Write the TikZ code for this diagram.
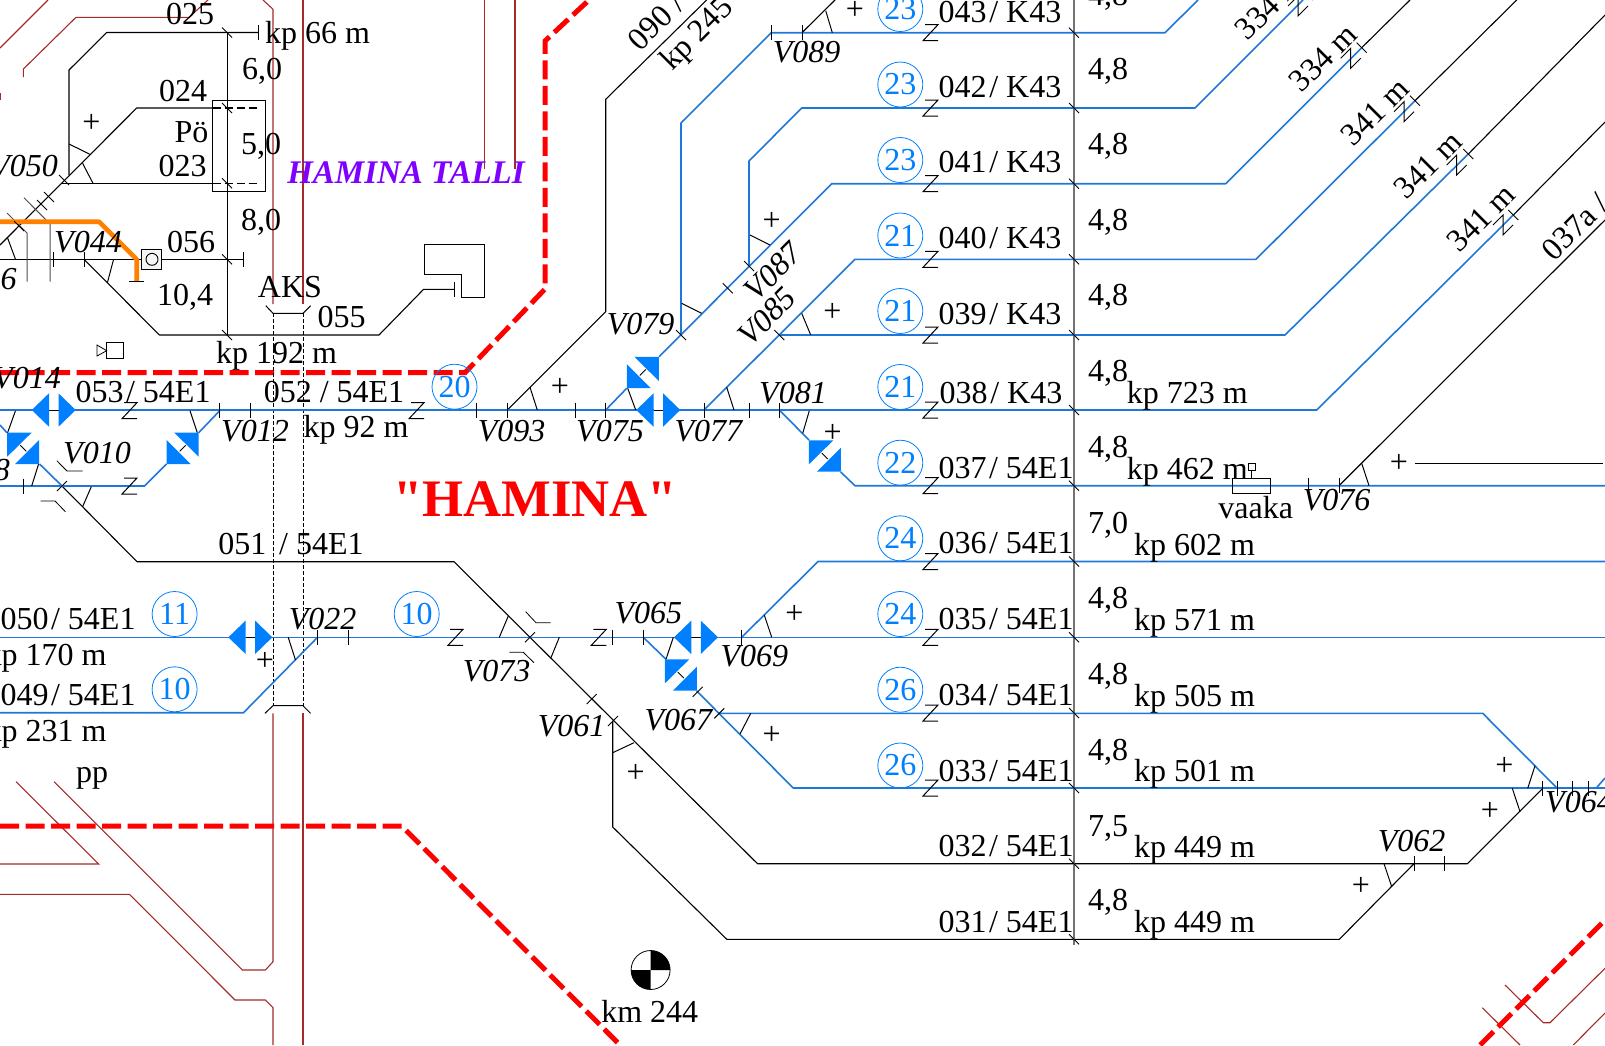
\documentclass[tikz,border=0pt]{standalone}
\usepackage{fontspec}
\setmainfont{Liberation Serif}
\newfontfamily\haminafont{Liberation Serif}
\newcommand{\tsl}{\hspace{.08em}/ }
\definecolor{trackblue}{HTML}{1F78D8}
\definecolor{sigblue}{HTML}{0080FF}
\definecolor{fencered}{HTML}{A52A2A}
\definecolor{zonered}{HTML}{FF0000}
\definecolor{sideorange}{HTML}{FF8000}
\definecolor{tallipurple}{HTML}{8000FF}
\begin{document}
\begin{tikzpicture}[x=1pt, y=-1pt,
    rail/.style={draw=black, line width=1.1pt, line join=round},
    bluerail/.style={draw=trackblue, line width=1.6pt, line join=round},
    fence/.style={draw=fencered, line width=1.1pt},
    zone/.style={draw=zonered, line width=5pt, dash pattern=on 19pt off 6.5pt},
    lbl/.style={inner sep=0pt, font=\fontsize{32}{32}\selectfont},
    sw/.style={lbl, font=\fontsize{32}{32}\selectfont\itshape},
    plus/.style={inner sep=0pt, font=\fontsize{32}{32}\selectfont},
    zlabel/.style={circle, draw=sigblue, line width=0.8pt, minimum size=45pt, inner sep=0pt,
      text=sigblue, font=\fontsize{32}{32}\selectfont},
    vt/.pic={\draw[line width=0.9pt] (0,-7.5) -- (0,7.5);},
    bs/.pic={\draw[line width=0.9pt] (-5,-5) -- (5,5);},
    fs/.pic={\draw[line width=0.9pt] (-5,5) -- (5,-5);},
    zmark/.pic={\draw[line width=1pt] (-5,-8) -- (8,-8) -- (-7,8) -- (8,8);},
    zdiag/.pic={\draw[line width=1pt] (-10,0) -- (0,-10) -- (0,10) -- (10,0);},
    sigh/.pic={
      \fill[white] (-4.75,-2) rectangle (4.75,2);
      \draw[line width=0.9pt] (-4.75,0) -- (4.75,0);
      \fill[sigblue] (-22,0) -- (-4.75,-16.7) -- (-4.75,16.7) -- cycle;
      \fill[sigblue] (22,0) -- (4.75,-16.7) -- (4.75,16.7) -- cycle;},
    sigd/.pic={
      \draw[line width=0.9pt] (-3,-3) -- (3,3);
      \fill[sigblue] (-16,-15.7) -- (8.5,-15.7) -- (-16,8.4) -- cycle;
      \fill[sigblue] (16,-8.3) -- (16,15.7) -- (-8,15.7) -- cycle;}]
  \useasboundingbox (0,0) rectangle (1605,1045);

  % fences
  \begin{scope}[fence]
    \draw[fence] (0,48) -- (48,0);
    \draw[fence] (23.4,77) -- (23.4,69) -- (76,17.3) -- (189,17.3) -- (208,0);
    \draw[fence] (0.5,93) -- (0.5,100);
    \draw[fence] (263,0) -- (273,9.3) -- (273,304);
    \draw[fence] (303,0) -- (303,304);
    \draw[fence] (484.5,0) -- (484.5,169);
    \draw[fence] (515,0) -- (515,169);
    \draw[fence] (16,781.7) -- (98.7,864) -- (0,864);
    \draw[fence] (54,781.7) -- (242.4,970) -- (265.4,970) -- (273,961.7) -- (273,713.3);
    \draw[fence] (0,894.3) -- (129.5,894.3) -- (235,1000) -- (265.4,1000) -- (273,1007.7) -- (273,1045);
    \draw[fence] (303,713.3) -- (303,1045);
    \draw[fence] (1505,985) -- (1543.3,1022.7) -- (1550,1022.7) -- (1605,968.3);
    \draw[fence] (1482.3,1007.7) -- (1520,1045);
    \draw[fence] (1573.3,1045) -- (1605,1013);
  \end{scope}

  % zone borders
  \draw[zone] (0,372.7) -- (465,372.7) -- (545,289) -- (545,41) -- (589,0);
  \draw[zone] (0,826) -- (401.7,826) -- (620,1045);
  \draw[zone] (1480,1045) -- (1605,920);

  % black tracks
  \begin{scope}[rail]
    \draw[rail] (258,32.5) -- (106.7,32.5) -- (69,70) -- (69,175);
    \draw[rail] (212.5,108) -- (136.7,108) -- (0,245);
    \draw[rail] (62,183.3) -- (212.5,183.3);
    \draw[rail, dash pattern=on 8pt off 4pt] (212.5,108) -- (258,108);
    \draw[rail, dash pattern=on 8pt off 4pt] (212.5,183.3) -- (258,183.3);
    \draw[rail] (0,259.3) -- (243,259.3);
    \draw[rail] (84,259.3) -- (159.4,335) -- (379,335) -- (423.6,289.3) -- (454.5,289.3);
    \draw[rail] (62,486) -- (137,561.7) -- (454,561.7) -- (757.5,863.7) -- (1467.3,863.7) -- (1542.7,788.3);
    \draw[rail] (612.7,720.7) -- (612.7,827) -- (726.8,939.3) -- (1339.3,939.3) -- (1414,863.7);
    \draw[rail] (507.3,410) -- (605.7,311.7) -- (605.7,99.3) -- (706.7,0);
    \draw[rail] (802,32.7) -- (835,0);
    \draw[rail] (1339,485.7) -- (1605,220);
    \draw[rail] (1415,463.3) -- (1603,463.3);
    \draw[rail] (1361.7,47.7) -- (1410,0);
    \draw[rail] (1415,100.7) -- (1516.7,0);
    \draw[rail] (1468.3,154) -- (1605,15);
    \draw[rail] (1513.3,215) -- (1605,122);
  \end{scope}

  % kilometre lines, building, station mark
  \draw[draw=black!55, line width=1.5pt] (1074,0) -- (1074,945);
  \draw[line width=1pt] (227,32.5) -- (227,335);
  \draw[line width=0.9pt] (212.5,100.3) rectangle (265,191.3);
  \draw[line width=1pt] (424,244) -- (484.5,244) -- (484.5,297.3) -- (461.4,297.3) -- (461.4,274.3) -- (424,274.3) -- cycle;
  \draw[black!70, line width=1pt] (7,213) -- (27,233) -- (27,281.7);
  \draw[black!70, line width=1pt] (24,197.7) -- (50,224) -- (50,281.7);
  \draw[line width=1pt] (265.8,305.7) -- (273,313.3) -- (303,313.3) -- (310.6,305.7);
  \draw[line width=1pt] (265,713.3) -- (273,705.7) -- (303,705.7) -- (310.6,713.3);
  \draw[line width=1pt, dash pattern=on 4pt off 2pt] (273,313.3) -- (273,705.7);
  \draw[line width=1pt, dash pattern=on 4pt off 2pt] (303,313.3) -- (303,705.7);

  % orange side track
  \draw[draw=sideorange, line width=4.6pt, line join=round] (0,221.7) -- (99,221.7) -- (136.7,259.3) -- (136.7,281.7);
  \draw[line width=0.9pt] (129,281.7) -- (144,281.7);

  % blue tracks
  \begin{scope}[bluerail]
    \draw[bluerail] (0,410) -- (1316.7,410) -- (1513.3,215);
    \draw[bluerail] (0,637.3) -- (1605,637.3);
    \draw[bluerail] (0,712.7) -- (243.5,712.7) -- (317.5,637.3);
    \draw[bluerail] (0,486) -- (144.6,486) -- (166.6,464);
    \draw[bluerail] (198.7,432.7) -- (219.7,410.7);
    \draw[bluerail] (0,425) -- (6.9,432.7);
    \draw[bluerail] (39.6,464) -- (62,486);
    \draw[bluerail] (605.7,410) -- (626.7,388.3);
    \draw[bluerail] (659,356.7) -- (831.7,183.7) -- (1225.7,183.7) -- (1361.7,47.7);
    \draw[bluerail] (681,335) -- (681,123) -- (771.3,32.7) -- (1165,32.7) -- (1198,0);
    \draw[bluerail] (749,266) -- (749,161) -- (801.7,108) -- (1195,108) -- (1303,0);
    \draw[bluerail] (704,410) -- (855,259.3) -- (1256,259.3) -- (1415,100.7);
    \draw[bluerail] (779.3,335) -- (1285,335) -- (1468.3,154);
    \draw[bluerail] (779.3,410) -- (809,440);
    \draw[bluerail] (840.7,472) -- (855,485.7) -- (1605,485.7);
    \draw[bluerail] (741.7,637.3) -- (818,561.5) -- (1605,561.5);
    \draw[bluerail] (643.3,637.3) -- (666,659.3);
    \draw[bluerail] (696.7,691) -- (793.3,788) -- (1605,788);
    \draw[bluerail] (718.3,713.3) -- (1482.7,713.3) -- (1557.3,788.3);
    \draw[bluerail] (1596,788.3) -- (1605,778);
  \end{scope}

  % frog lines
  \begin{scope}[line width=1pt]
    \draw (69,144) -- (90,154.3); \draw (82.6,163.3) -- (93,183.3);
    \draw (113.6,259.3) -- (107.4,282.7); \draw (7.6,238) -- (15.5,259.3);
    \draw (15.5,410.7) -- (7.6,432.7); \draw (190,410.7) -- (197.3,432.7);
    \draw (38.6,464) -- (31.7,486); \draw (91.3,486.7) -- (82.6,506.7);
    \draw (288.2,637.3) -- (295.5,660); \draw (508.3,616) -- (499.3,637.3);
    \draw (559.3,637.3) -- (550.7,658.3); \draw (530,387.3) -- (537.3,410);
    \draw (627.7,388.3) -- (635.7,410); \draw (726.7,387.3) -- (734,410);
    \draw (809.3,410.7) -- (802.7,433.3); \draw (673.3,637.3) -- (666,659.3);
    \draw (764.3,615) -- (771.7,637.3); \draw (750.7,713.3) -- (740,734);
    \draw (612.7,752.7) -- (634,742.7); \draw (681.7,303.3) -- (701.7,313.3);
    \draw (750,235) -- (770,245); \draw (801.7,313.3) -- (810.7,335);
    \draw (825.7,10.7) -- (832.3,32.7); \draw (1361.7,463.3) -- (1369,485.7);
    \draw (1384,863.7) -- (1391.7,886.7); \draw (1512.3,788.3) -- (1520,811.7);
    \draw (1535,765.7) -- (1527.7,788.3);
    \draw[line width=0.8pt] (56.8,460.7) -- (67,471) -- (82.6,471);
    \draw[line width=0.8pt] (40.6,501) -- (55,501) -- (65.4,511.7);
    \draw[line width=0.8pt] (525.7,611.7) -- (536,622.7) -- (550.7,622.7);
    \draw[line width=0.8pt] (509.3,652.3) -- (523.3,652.3) -- (534,662.7);
  \end{scope}

  % signals
  \pic at (53.75,410) {sigh}; \pic at (250.35,637.3) {sigh};
  \pic at (658.3,410) {sigh}; \pic at (696,637.3) {sigh};
  \pic at (23.2,448.3) {sigd}; \pic at (680.8,675) {sigd}; \pic at (824.8,456) {sigd};
  \pic[xscale=-1] at (182.7,448.3) {sigd}; \pic[xscale=-1] at (642.8,372.5) {sigd};
  \draw[line width=0.8pt] (97,345) -- (106.7,350.7) -- (97,356) -- cycle;
  \draw[line width=0.8pt] (106.7,342.3) rectangle (123.3,358.3);
  \draw[line width=0.9pt, fill=black!4] (141.9,249.3) rectangle (161.8,269.3);
  \node[circle, draw, line width=0.9pt, minimum size=12pt, inner sep=0pt] (kv056) at (152,259.3) {};
  \draw[line width=0.9pt] (1232.3,478.7) rectangle (1270.7,493.3);
  \draw[line width=0.9pt] (1248.3,463.3) rectangle (1255.3,470.7);
  \draw[line width=0.9pt] (1251.8,470.7) -- (1251.8,478.7);

  % ticks
  \pic at (258,32.5) {vt}; \pic at (243,259.3) {vt}; \pic at (53.4,259.3) {vt}; \pic at (84,259.3) {vt};
  \pic at (454.5,289.3) {vt};
  \pic at (219.7,410) {vt}; \pic at (250,410) {vt}; \pic at (476.7,410) {vt}; \pic at (507.3,410) {vt};
  \pic at (575,410) {vt}; \pic at (605.7,410) {vt}; \pic at (704,410) {vt}; \pic at (749.3,410) {vt}; \pic at (779.3,410) {vt};
  \pic at (23.4,486) {vt}; \pic at (1308,485.7) {vt}; \pic at (1339,485.7) {vt};
  \pic at (317.5,637.3) {vt}; \pic at (348.6,637.3) {vt}; \pic at (612.7,637.3) {vt}; \pic at (643.3,637.3) {vt}; \pic at (741.7,637.3) {vt};
  \pic at (771.7,32.7) {vt}; \pic at (802,32.7) {vt};
  \pic at (1414,863.7) {vt}; \pic at (1444.3,863.7) {vt};
  \pic at (1542.7,788.3) {vt}; \pic at (1557.3,788.3) {vt}; \pic at (1572.7,788.3) {vt}; \pic at (1588.3,788.3) {vt};
  \pic at (227,32.5) {bs}; \pic at (227,108) {bs}; \pic at (227,183.3) {bs}; \pic at (227,259.3) {bs}; \pic at (227,335) {bs};
  \pic at (64,180) {bs}; \pic at (49,197) {bs}; \pic at (42,205) {bs}; \pic at (19,226) {bs};
  \pic at (681,335) {bs}; \pic at (727.7,288.3) {bs}; \pic at (749,266) {bs}; \pic at (779.3,335) {bs};
  \pic at (1361.7,47.7) {bs}; \pic at (1415,100.7) {bs}; \pic at (1468.3,154) {bs}; \pic at (1513.3,215) {bs}; \pic at (1308,-5) {bs};
  \pic at (62,486) {fs}; \pic at (530,637.3) {fs}; \pic at (591.7,699) {fs}; \pic at (613,721) {fs};
  \pic at (697.7,691.7) {fs}; \pic at (719.3,713.3) {fs};
  \pic at (1074,32.7) {bs}; \pic at (1074,108) {bs}; \pic at (1074,183.7) {bs}; \pic at (1074,259.3) {bs};
  \pic at (1074,335) {bs}; \pic at (1074,410) {bs}; \pic at (1074,485.7) {bs}; \pic at (1074,561.5) {bs};
  \pic at (1074,637.3) {bs}; \pic at (1074,713) {bs}; \pic at (1074,788) {bs}; \pic at (1074,863.7) {bs}; \pic at (1074,939.3) {bs};

  % insulated joints
  \pic at (930,32.7) {zmark}; \pic at (930,108) {zmark}; \pic at (930,183.7) {zmark}; \pic at (930,259.3) {zmark};
  \pic at (930,335) {zmark}; \pic at (930,410) {zmark}; \pic at (930,485.7) {zmark}; \pic at (930,561.5) {zmark};
  \pic at (930,637.3) {zmark}; \pic at (930,713) {zmark}; \pic at (930,788) {zmark};
  \pic at (129,410.7) {zmark}; \pic at (416,410.7) {zmark}; \pic at (129,486) {zmark};
  \pic at (455,637.3) {zmark}; \pic at (598.3,637.3) {zmark};
  \pic at (1298,6) {zdiag}; \pic at (1350.7,58.3) {zdiag}; \pic at (1404,111.7) {zdiag};
  \pic at (1456.7,165) {zdiag}; \pic at (1503,225) {zdiag};

  % km mark
  \node[circle, draw, line width=0.8pt, minimum size=39pt, inner sep=0pt] (km) at (650.6,970) {};
  \fill (650.6,970) -- (670.1,970) arc[start angle=0, end angle=90, radius=19.5pt] -- cycle;
  \fill (650.6,970) -- (631.1,970) arc[start angle=180, end angle=270, radius=19.5pt] -- cycle;

  % plus marks
  \begin{scope}[every node/.style={plus}]
    \node (p1) at (91.3,123.3) {+}; \node (p2) at (560,387.7) {+}; \node (p3) at (265,661.7) {+};
    \node (p4) at (771.7,221.7) {+}; \node (p5) at (832.3,312.3) {+}; \node (p6) at (855,10) {+};
    \node (p7) at (832.7,433.3) {+}; \node (p8) at (1399,463.3) {+}; \node (p9) at (794.3,614.3) {+};
    \node (p10) at (771.7,735.7) {+}; \node (p11) at (635.7,773.3) {+}; \node (p12) at (1504.3,766) {+};
    \node (p13) at (1490,811) {+}; \node (p14) at (1361,886.7) {+};
  \end{scope}

  % circled numbers
  \begin{scope}[every node/.style={zlabel}]
    \node (c043) at (900.3,9) {23}; \node (c042) at (900.3,84.5) {23}; \node (c041) at (900.3,160) {23};
    \node (c040) at (900.3,235.5) {21}; \node (c039) at (900.3,311) {21}; \node (c038) at (900.3,387) {21};
    \node (c037) at (900.3,462.7) {22}; \node (c036) at (900.3,538.3) {24}; \node (c035) at (900.3,614) {24};
    \node (c034) at (900.3,689.7) {26}; \node (c033) at (900.3,765.5) {26};
    \node (c052) at (454.5,386.7) {20}; \node (c050) at (174.6,614) {11};
    \node (c073) at (416.7,614) {10}; \node (c049) at (174.6,689.3) {10};
  \end{scope}

  % track labels
  \begin{scope}[every node/.style={lbl}]
    \node (t025) at (190,14) {025}; \node (t024) at (183,91) {024}; \node (t023) at (182.5,166) {023};
    \node (poe) at (191.5,132) {Pö}; \node (t056) at (191,242) {056}; \node (t055) at (341.6,317) {055};
    \node (aks) at (290,287) {AKS}; \node (pp) at (92,778) {pp}; \node (km244) at (649.7,1011.7) {km 244};
    \node (d60) at (262,71) {6,0}; \node (d50) at (261,146) {5,0}; \node (d80) at (261,222) {8,0}; \node (d104) at (185,297) {10,4};
    \node[anchor=west] (kp66) at (265,36) {kp 66 m}; \node (kp192) at (276.5,356) {kp 192 m};
    \node (t053) at (143,392) {053\tsl 54E1}; \node (t052) at (334,392) {052 / 54E1}; \node (kp92) at (356,430) {kp 92 m};
    \node (t051) at (291,544) {051\hspace{.4em}/ 54E1}; \node (t050) at (68,619.3) {050\tsl 54E1}; \node (t049) at (68,695) {049\tsl 54E1};
    \node[anchor=east] (kp170) at (106.7,658) {kp 170 m}; \node[anchor=east] (kp231) at (106.7,734) {kp 231 m};
    \node (t043) at (1000,11.7) {043\tsl K43}; \node (t042) at (1000,86.7) {042\tsl K43}; \node (t041) at (1000,162) {041\tsl K43};
    \node (t040) at (1000,238) {040\tsl K43}; \node (t039) at (1000,314) {039\tsl K43}; \node (t038) at (1001,393) {038\tsl K43};
    \node (t037) at (1006,468) {037\tsl 54E1}; \node (t036) at (1006,543.5) {036\tsl 54E1}; \node (t035) at (1006,619.5) {035\tsl 54E1};
    \node (t034) at (1006,695) {034\tsl 54E1}; \node (t033) at (1006,770.5) {033\tsl 54E1};
    \node (t032) at (1006,846) {032\tsl 54E1}; \node (t031) at (1006,921.6) {031\tsl 54E1};
    \node (w043) at (1108,-3) {4,8}; \node (w042) at (1108,71.6) {4,8}; \node (w041) at (1108,146.3) {4,8};
    \node (w040) at (1108,222) {4,8}; \node (w039) at (1108,297.8) {4,8}; \node (w038) at (1108,373.5) {4,8};
    \node (w037) at (1108,449.3) {4,8}; \node (w036) at (1108,525) {7,0}; \node (w035) at (1108,600.8) {4,8};
    \node (w034) at (1108,676.5) {4,8}; \node (w033) at (1108,752) {4,8}; \node (w032) at (1108,828) {7,5};
    \node (w031) at (1108,902.8) {4,8};
    \node (kp723) at (1187.4,396) {kp 723 m}; \node (kp462) at (1187.4,472) {kp 462 m}; \node (kp602) at (1194.6,547.6) {kp 602 m};
    \node (kp571) at (1194.6,623) {kp 571 m}; \node (kp505) at (1194.6,699) {kp 505 m}; \node (kp501) at (1194.6,774) {kp 501 m};
    \node (kp449a) at (1194.6,849.5) {kp 449 m}; \node (kp449b) at (1194.6,925) {kp 449 m};
    \node (vaaka) at (1255.7,508) {vaaka};
    \node[rotate=45] (t090) at (656,21.7) {090 /}; \node[rotate=45] (kp245) at (698,35) {kp 245};
    \node[rotate=45] (m334a) at (1269,6) {334 m}; \node[rotate=45] (m334b) at (1323,58) {334 m};
    \node[rotate=45] (m341a) at (1375,111.7) {341 m}; \node[rotate=45] (m341b) at (1428,165) {341 m};
    \node[rotate=45] (m341c) at (1481,218) {341 m}; \node[rotate=45] (t037a) at (1575,226.7) {037a /};
  \end{scope}

  % switch labels
  \begin{scope}[every node/.style={sw}]
    \node[anchor=east] (v050) at (58,166) {V050}; \node (v044) at (88,242) {V044}; \node (v014) at (27,378) {V014};
    \node (v012) at (255,430.7) {V012}; \node (v010) at (97,452.7) {V010}; \node (v093) at (511.7,430.7) {V093};
    \node (v075) at (610,430.7) {V075}; \node (v077) at (708.3,430.7) {V077}; \node (v081) at (793,393) {V081};
    \node (v079) at (640.7,324.3) {V079}; \node (v089) at (806.7,51.7) {V089};
    \node[rotate=45] (v085) at (767,316.7) {V085}; \node[rotate=45] (v087) at (773,271.7) {V087};
    \node (v022) at (322.7,619.3) {V022}; \node (v073) at (496.7,670.7) {V073}; \node (v065) at (648.3,613.3) {V065};
    \node (v069) at (754.3,656) {V069}; \node (v067) at (678.3,720) {V067}; \node (v061) at (571.7,726) {V061};
    \node (v076) at (1336.7,500) {V076}; \node (v062) at (1411.7,840.7) {V062}; \node[anchor=west] (v064) at (1545,801.7) {V064};
    \node (v8) at (2,470) {8}; \node (v6) at (8.6,279) {6};
  \end{scope}

  \node[inner sep=0pt, text=tallipurple, font=\fontsize{33}{33}\selectfont\bfseries\itshape] (talli) at (406,173) {HAMINA TALLI};
  \node[inner sep=0pt, text=zonered, font=\haminafont\fontsize{52.7}{53}\selectfont\bfseries] (hamina) at (535,499.5) {"HAMINA"};
\end{tikzpicture}
\end{document}
